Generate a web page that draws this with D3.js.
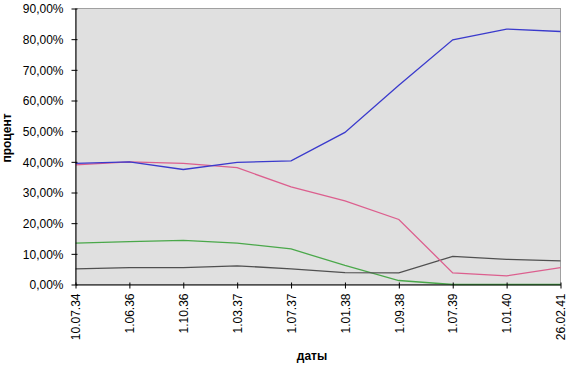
<!DOCTYPE html>
<html>
<head>
<meta charset="utf-8">
<script src="https://cdn.jsdelivr.net/npm/d3@7"></script>
<style>
    body { margin: 0; background: #ffffff; }
    text { font-family: "Liberation Sans", Arial, sans-serif; fill: #000; }
</style>
</head>
<body>
<script>
// categories (dates) and series values
var dates = ["10.07.34", "1.06.36", "1.10.36", "1.03.37", "1.07.37",
             "1.01.38", "1.09.38", "1.07.39", "1.01.40", "26.02.41"];
var blueVals = [0.395, 0.400, 0.375, 0.398, 0.403,
                0.496, 0.650, 0.798, 0.833, 0.825];
var pinkVals = [0.390, 0.400, 0.395, 0.381, 0.318,
                0.273, 0.212, 0.038, 0.028, 0.055];
var greenVals = [0.135, 0.140, 0.144, 0.135, 0.116,
                 0.062, 0.013, 0.000, 0.000, 0.000];
var greyVals = [0.051, 0.055, 0.055, 0.061, 0.051,
                0.039, 0.038, 0.092, 0.082, 0.077];
var yTicks = [0, 0.1, 0.2, 0.3, 0.4, 0.5, 0.6, 0.7, 0.8, 0.9];

var series = [
    { vals: greenVals, color: "#4aa84a" },
    { vals: greyVals, color: "#505050" },
    { vals: pinkVals, color: "#dc5f8e" },
    { vals: blueVals, color: "#3a3acc" }
];

var width = 568, height = 367;
// plot box edges (window.top is reserved, so use other names)
var plotL = 75.5, plotR = 560.5, plotT = 8.5, plotB = 284.5;

var svg = d3.select("body")
    .append("svg")
    .attr("width", width)
    .attr("height", height);

var x = d3.scalePoint()
    .domain(dates)
    .range([plotL, plotR])
    .padding(0);

var y = d3.scaleLinear()
    .domain([0, 0.9])
    .range([plotB, plotT]);

// plot area
svg.append("rect")
    .attr("x", plotL)
    .attr("y", plotT)
    .attr("width", plotR - plotL)
    .attr("height", plotB - plotT)
    .attr("fill", "#e0e0e0")
    .attr("stroke", "#a0a0a0")
    .attr("stroke-width", 1);

// lines
var line = d3.line()
    .x(function(d, i) { return x(dates[i]); })
    .y(function(d) { return y(d); });

series.forEach(function(s) {
    svg.append("path")
        .attr("d", line(s.vals))
        .attr("fill", "none")
        .attr("stroke", s.color)
        .attr("stroke-width", 1.3);
});

// y axis
var fmt = function(d) {
    return (d * 100).toFixed(2).replace(".", ",") + "%";
};
var yAxis = svg.append("g")
    .attr("transform", "translate(" + plotL + ",0)")
    .call(d3.axisLeft(y).tickValues(yTicks).tickFormat(fmt)
        .tickSizeInner(4).tickSizeOuter(0).tickPadding(8));
yAxis.select(".domain").attr("stroke", "#000");
yAxis.selectAll(".tick line").attr("stroke", "#000").attr("x2", 2)
    .attr("x1", -4);
yAxis.selectAll("text")
    .style("font-size", "12px")
    .attr("dy", "0.35em");

// x axis
var xAxis = svg.append("g")
    .attr("transform", "translate(0," + plotB + ")")
    .call(d3.axisBottom(x).tickSizeInner(4).tickSizeOuter(0));
xAxis.select(".domain").attr("stroke", "#000");
xAxis.selectAll(".tick line").attr("stroke", "#000")
    .attr("y1", -2).attr("y2", 4);
xAxis.selectAll("text")
    .style("font-size", "12px")
    .attr("transform", "rotate(-90)")
    .attr("text-anchor", "end")
    .attr("x", -9)
    .attr("y", 0)
    .attr("dy", "0.35em");

// axis titles
svg.append("text")
    .attr("x", 312)
    .attr("y", 360)
    .attr("text-anchor", "middle")
    .style("font-size", "12px")
    .style("font-weight", "bold")
    .text("даты");

svg.append("text")
    .attr("transform", "translate(11,138) rotate(-90)")
    .attr("text-anchor", "middle")
    .style("font-size", "12px")
    .style("font-weight", "bold")
    .text("процент");
</script>
</body>
</html>
